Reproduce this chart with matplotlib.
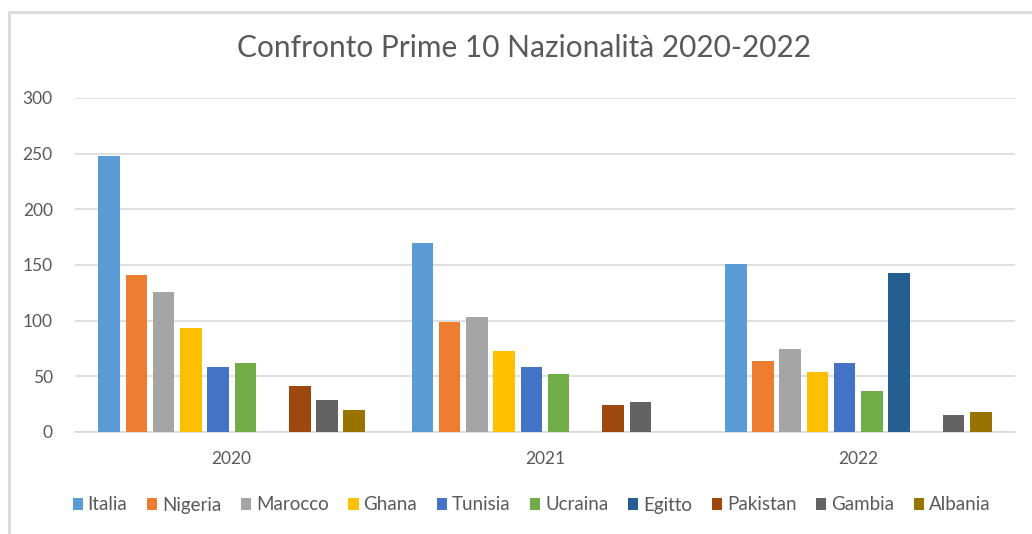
import numpy as np
import matplotlib.pyplot as plt
from matplotlib.patches import Rectangle

plt.rcParams['font.family'] = ['Lato', 'DejaVu Sans']

years = ['2020', '2021', '2022']
countries = ['Italia', 'Nigeria', 'Marocco', 'Ghana', 'Tunisia',
             'Ucraina', 'Egitto', 'Pakistan', 'Gambia', 'Albania']
colors = ['#5B9BD5', '#ED7D31', '#A5A5A5', '#FFC000', '#4472C4',
          '#70AD47', '#255E91', '#9E480E', '#636363', '#997300']

italia = [248, 170, 151]
nigeria = [141, 99, 64]
marocco = [126, 103, 75]
ghana = [93, 73, 54]
tunisia = [58, 58, 62]
ucraina = [62, 52, 37]
egitto = [0, 0, 143]
pakistan = [41, 24, 0]
gambia = [29, 27, 15]
albania = [20, 0, 18]

series = [italia, nigeria, marocco, ghana, tunisia,
          ucraina, egitto, pakistan, gambia, albania]

text_col = '#595959'
grid_col = '#D9D9D9'

fig = plt.figure(figsize=(10.32, 5.34), dpi=100)
ax = fig.add_axes([75 / 1032, 1 - 432 / 534, 940 / 1032, 334 / 534])

# light border around the chart area (only top and left edges visible)
fig.patches.append(Rectangle((9 / 1032, -0.5), 1.5, 1.5 - 12 / 534,
                             transform=fig.transFigure, fill=False,
                             edgecolor='#D9D9D9', linewidth=2))

x = np.arange(len(years))
step = 27.2 / 313
width = 21.5 / 313
for i, vals in enumerate(series):
    ax.bar(x + (i - 4.5) * step, vals, width=width, color=colors[i],
           label=countries[i], zorder=3)

ax.set_xlim(-0.5, 2.5)
ax.set_ylim(0, 300)
ax.set_yticks(range(0, 301, 50))
ax.set_xticks(x)
ax.set_xticklabels(years)
ax.yaxis.grid(True, color=grid_col, linewidth=1.2, zorder=0)
for s in ['top', 'right', 'left']:
    ax.spines[s].set_visible(False)
ax.spines['bottom'].set_color(grid_col)
ax.spines['bottom'].set_linewidth(1.2)
ax.tick_params(length=0, colors=text_col, labelsize=12.5)
ax.tick_params(axis='y', pad=16)
ax.tick_params(axis='x', pad=14)

fig.text(0.508, 1 - 48 / 534, 'Confronto Prime 10 Nazionalità 2020-2022',
         ha='center', va='center', fontsize=21.5, color=text_col)

fig.legend(loc='center', bbox_to_anchor=(0.515, 1 - 505 / 534), ncol=10,
           frameon=False, fontsize=13.5, labelcolor=text_col,
           handlelength=0.55, handleheight=0.55, handletextpad=0.25,
           columnspacing=1.05)

fig.savefig('out.png', dpi=100)
